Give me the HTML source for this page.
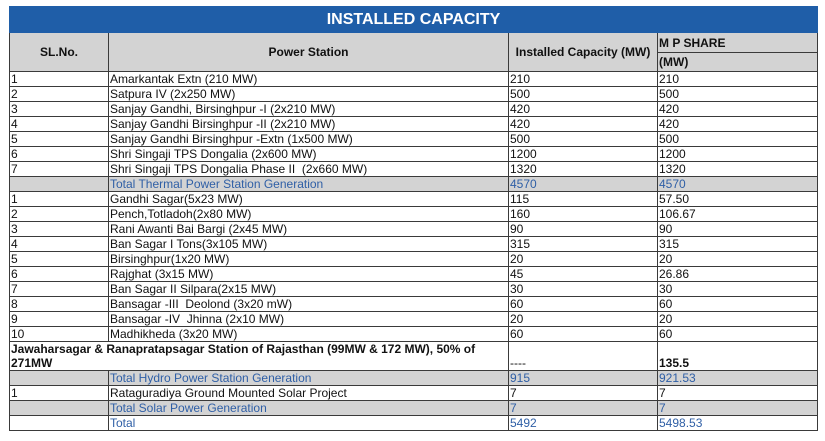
<!DOCTYPE html>
<html><head><meta charset="utf-8"><style>
body{margin:0;background:#fff;font-family:"Liberation Sans",Arial,sans-serif;}
table{position:absolute;left:9px;top:6px;border-collapse:collapse;width:808px;table-layout:fixed;font-size:12px;}
td{border:1px solid #3a3a3a;padding:0 1px;height:14px;line-height:14px;white-space:nowrap;overflow:hidden;color:#111;}
.title td{background:#1f5ea8;color:#fff;font-weight:bold;font-size:16px;text-align:center;height:25px;border-color:#1f5ea8;}
.h td{background:#d3d3d3;font-weight:bold;text-align:center;}
.t td{background:#d3d3d3;color:#2f5fa6;}
.b{font-weight:bold;}
</style></head><body>
<table>
<colgroup><col style="width:99px"><col style="width:400px"><col style="width:149px"><col style="width:160px"></colgroup>
<tr class="title"><td colspan="4">INSTALLED CAPACITY</td></tr>
<tr class="h"><td rowspan="2" style="height:38px">SL.No.</td><td rowspan="2">Power Station</td><td rowspan="2">Installed Capacity (MW)</td><td style="text-align:left;height:19px">M P SHARE</td></tr>
<tr class="h"><td style="text-align:left;height:18px">(MW)</td></tr>
<tr><td>1</td><td>Amarkantak Extn (210 MW)</td><td>210</td><td>210</td></tr>
<tr><td>2</td><td>Satpura IV (2x250 MW)</td><td>500</td><td>500</td></tr>
<tr><td>3</td><td>Sanjay Gandhi, Birsinghpur -I (2x210 MW)</td><td>420</td><td>420</td></tr>
<tr><td>4</td><td>Sanjay Gandhi Birsinghpur -II (2x210 MW)</td><td>420</td><td>420</td></tr>
<tr><td>5</td><td>Sanjay Gandhi Birsinghpur -Extn (1x500 MW)</td><td>500</td><td>500</td></tr>
<tr><td>6</td><td>Shri Singaji TPS Dongalia (2x600 MW)</td><td>1200</td><td>1200</td></tr>
<tr><td>7</td><td>Shri Singaji TPS Dongalia Phase II&nbsp; (2x660 MW)</td><td>1320</td><td>1320</td></tr>
<tr class="t"><td></td><td>Total Thermal Power Station Generation</td><td>4570</td><td>4570</td></tr>
<tr><td>1</td><td>Gandhi Sagar(5x23 MW)</td><td>115</td><td>57.50</td></tr>
<tr><td>2</td><td>Pench,Totladoh(2x80 MW)</td><td>160</td><td>106.67</td></tr>
<tr><td>3</td><td>Rani Awanti Bai Bargi (2x45 MW)</td><td>90</td><td>90</td></tr>
<tr><td>4</td><td>Ban Sagar I Tons(3x105 MW)</td><td>315</td><td>315</td></tr>
<tr><td>5</td><td>Birsinghpur(1x20 MW)</td><td>20</td><td>20</td></tr>
<tr><td>6</td><td>Rajghat (3x15 MW)</td><td>45</td><td>26.86</td></tr>
<tr><td>7</td><td>Ban Sagar II Silpara(2x15 MW)</td><td>30</td><td>30</td></tr>
<tr><td>8</td><td>Bansagar -III&nbsp; Deolond (3x20 mW)</td><td>60</td><td>60</td></tr>
<tr><td>9</td><td>Bansagar -IV&nbsp; Jhinna (2x10 MW)</td><td>20</td><td>20</td></tr>
<tr><td>10</td><td>Madhikheda (3x20 MW)</td><td>60</td><td>60</td></tr>
<tr><td colspan="2" class="b" style="height:28px;white-space:normal;vertical-align:bottom">Jawaharsagar &amp; Ranapratapsagar Station of Rajasthan (99MW &amp; 172 MW), 50% of 271MW</td><td style="vertical-align:bottom">----</td><td class="b" style="vertical-align:bottom">135.5</td></tr>
<tr class="t"><td></td><td>Total Hydro Power Station Generation</td><td>915</td><td>921.53</td></tr>
<tr><td>1</td><td>Rataguradiya Ground Mounted Solar Project</td><td>7</td><td>7</td></tr>
<tr class="t"><td></td><td>Total Solar Power Generation</td><td>7</td><td>7</td></tr>
<tr><td></td><td style="color:#2f5fa6">Total</td><td style="color:#2f5fa6">5492</td><td style="color:#2f5fa6">5498.53</td></tr>
</table>
</body></html>
